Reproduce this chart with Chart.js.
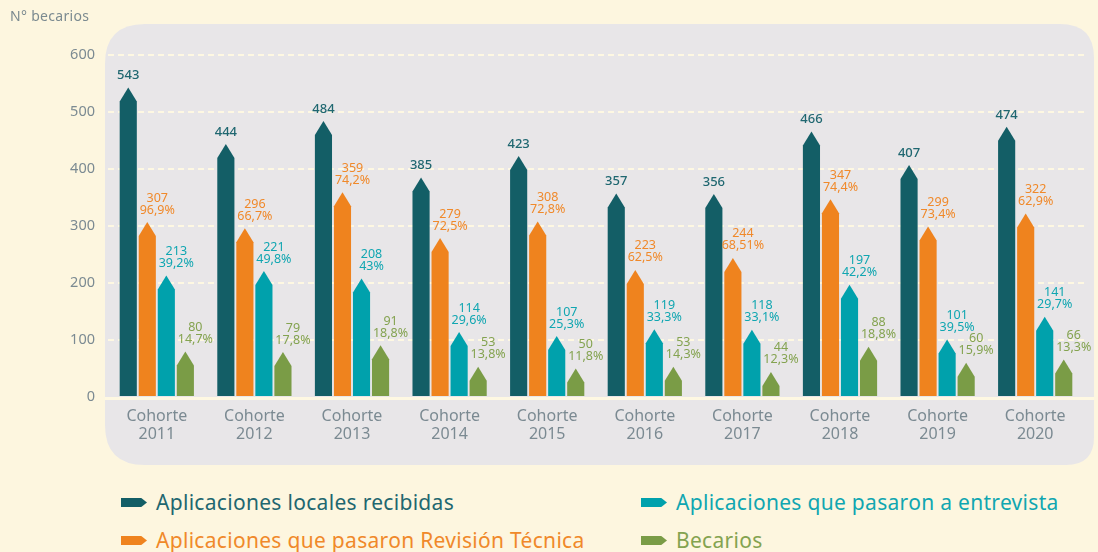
<!DOCTYPE html>
<html>
<head>
<meta charset="utf-8">
<script src="https://cdn.jsdelivr.net/npm/chart.js@4/dist/chart.umd.min.js"></script>
<style>
  html, body { margin: 0; padding: 0; background: #fdf6df; }
  #wrap { position: relative; width: 1098px; height: 552px; overflow: hidden; font-family: 'Noto Sans', sans-serif; }
  #chart { position: absolute; left: 0; top: 0; }
  #ytitle { position: absolute; left: 10px; top: 6px; font-size: 14px; color: #7b8a90; letter-spacing: 0.3px; }
  .leg { position: absolute; font-size: 21px; letter-spacing: 0.3px; white-space: nowrap; line-height: 24px; }
  .leg i { display: inline-block; width: 26px; height: 9px; margin-right: 9px; vertical-align: 3px;
           clip-path: polygon(0 0, 78% 0, 100% 50%, 78% 100%, 0 100%); }
</style>
</head>
<body>
<div id="wrap">
  <canvas id="chart" width="1098" height="475"></canvas>
  <div id="ytitle">N° becarios</div>
  <div id="legend"></div>
</div>
<script>
// datos
const cohortes = ['2011', '2012', '2013', '2014', '2015', '2016', '2017', '2018', '2019', '2020'];
const recibidas = [543, 444, 484, 385, 423, 357, 356, 466, 407, 474];
const revision = [307, 296, 359, 279, 308, 223, 244, 347, 299, 322];
const revisionPct = ['96,9%', '66,7%', '74,2%', '72,5%', '72,8%', '62,5%', '68,51%', '74,4%', '73,4%', '62,9%'];
const entrevista = [213, 221, 208, 114, 107, 119, 118, 197, 101, 141];
const entrevistaPct = ['39,2%', '49,8%', '43%', '29,6%', '25,3%', '33,3%', '33,1%', '42,2%', '39,5%', '29,7%'];
const becarios = [80, 79, 91, 53, 50, 53, 44, 88, 60, 66];
const becariosPct = ['14,7%', '17,8%', '18,8%', '13,8%', '11,8%', '14,3%', '12,3%', '18,8%', '15,9%', '13,3%'];
const yTicks = [0, 100, 200, 300, 400, 500, 600];

const series = [
  { label: 'Aplicaciones locales recibidas', data: recibidas, pct: null, color: '#135e66', text: '#1f6770' },
  { label: 'Aplicaciones que pasaron Revisión Técnica', data: revision, pct: revisionPct, color: '#ef831e', text: '#f0892a' },
  { label: 'Aplicaciones que pasaron a entrevista', data: entrevista, pct: entrevistaPct, color: '#00a1ac', text: '#10a6b1' },
  { label: 'Becarios', data: becarios, pct: becariosPct, color: '#7a9c46', text: '#84a350' }
];

const PANEL = '#e8e6e8';
const CREAM = '#fef8e2';

function roundPanel(ctx, x0, y0, x1, y1, r) {
  // r = [tl, tr, br, bl]
  ctx.beginPath();
  ctx.moveTo(x0 + r[0], y0);
  ctx.lineTo(x1 - r[1], y0);
  ctx.quadraticCurveTo(x1, y0, x1, y0 + r[1]);
  ctx.lineTo(x1, y1 - r[2]);
  ctx.quadraticCurveTo(x1, y1, x1 - r[2], y1);
  ctx.lineTo(x0 + r[3], y1);
  ctx.quadraticCurveTo(x0, y1, x0, y1 - r[3]);
  ctx.lineTo(x0, y0 + r[0]);
  ctx.quadraticCurveTo(x0, y0, x0 + r[0], y0);
  ctx.closePath();
}

const panelPlugin = {
  id: 'panel',
  beforeDraw(chart) {
    const ctx = chart.ctx;
    ctx.save();
    ctx.fillStyle = PANEL;
    roundPanel(ctx, 105, 24, 1094, 465, [40, 34, 28, 40]);
    ctx.fill();
    ctx.restore();
  },
  beforeDatasetsDraw(chart) {
    const ctx = chart.ctx;
    const y0 = chart.scales.y.getPixelForValue(0);
    ctx.save();
    ctx.strokeStyle = CREAM;
    ctx.lineWidth = 3;
    ctx.beginPath();
    ctx.moveTo(105, y0 + 1.5);
    ctx.lineTo(1094, y0 + 1.5);
    ctx.stroke();
    ctx.restore();
  }
};

const arrowBars = {
  id: 'arrowBars',
  afterDatasetsDraw(chart) {
    const ctx = chart.ctx;
    ctx.save();
    chart.data.datasets.forEach((ds, di) => {
      const meta = chart.getDatasetMeta(di);
      const s = series[di];
      meta.data.forEach((bar, i) => {
        const p = bar.getProps(['x', 'y', 'base', 'width'], true);
        const l = p.x - p.width / 2, r = p.x + p.width / 2;
        const cap = 14;
        ctx.fillStyle = s.color;
        ctx.beginPath();
        ctx.moveTo(l, p.base);
        ctx.lineTo(l, p.y + cap);
        ctx.lineTo(p.x, p.y);
        ctx.lineTo(r, p.y + cap);
        ctx.lineTo(r, p.base);
        ctx.closePath();
        ctx.fill();

        ctx.fillStyle = s.text;
        ctx.textAlign = 'center';
        ctx.textBaseline = 'middle';
        if (!s.pct) {
          ctx.font = '500 13px "Noto Sans"';
          ctx.fillText(String(s.data[i]), p.x, p.y - 12);
        } else {
          ctx.font = '12.5px "Noto Sans"';
          const tx = p.x + 10;
          ctx.fillText(String(s.data[i]), tx, p.y - 24);
          ctx.fillText(s.pct[i], tx, p.y - 12);
        }
      });
    });
    ctx.restore();
  }
};

new Chart(document.getElementById('chart'), {
  type: 'bar',
  data: {
    labels: cohortes.map(c => ['Cohorte', c]),
    datasets: series.map(s => ({
      label: s.label,
      data: s.data,
      backgroundColor: 'transparent',
      borderWidth: 0
    }))
  },
  options: {
    responsive: false,
    animation: false,
    events: [],
    categoryPercentage: 0.78,
    barPercentage: 0.9,
    layout: { padding: { top: 55, right: 14, left: 0, bottom: 0 } },
    plugins: { legend: { display: false }, tooltip: { enabled: false } },
    scales: {
      x: {
        afterFit: s => { s.height = 78; },
        grid: { display: false },
        border: { display: false },
        ticks: {
          color: '#7b8a92',
          font: { family: 'Noto Sans', size: 16, lineHeight: 1.15 },
          padding: 2,
          maxRotation: 0
        }
      },
      y: {
        min: 0,
        max: 600,
        afterFit: s => { s.width = 108; },
        afterBuildTicks: s => { s.ticks = yTicks.map(v => ({ value: v })); },
        grid: {
          color: ctx => ctx.tick && ctx.tick.value === 0 ? 'transparent' : CREAM,
          lineWidth: 2,
          drawTicks: false
        },
        border: { display: false, dash: [6, 4] },
        ticks: {
          color: '#7b8a92',
          font: { family: 'Noto Sans', size: 14.5 },
          padding: 13
        }
      }
    }
  },
  plugins: [panelPlugin, arrowBars]
});

// leyenda
const legendPos = [
  { left: 121, top: 490 },
  { left: 121, top: 528 },
  { left: 641, top: 490 },
  { left: 641, top: 528 }
];
const legend = document.getElementById('legend');
series.forEach((s, i) => {
  const d = document.createElement('div');
  d.className = 'leg';
  d.style.left = legendPos[i].left + 'px';
  d.style.top = legendPos[i].top + 'px';
  d.style.color = s.text;
  d.innerHTML = '<i style="background:' + s.color + '"></i>' + s.label;
  legend.appendChild(d);
});
</script>
</body>
</html>
